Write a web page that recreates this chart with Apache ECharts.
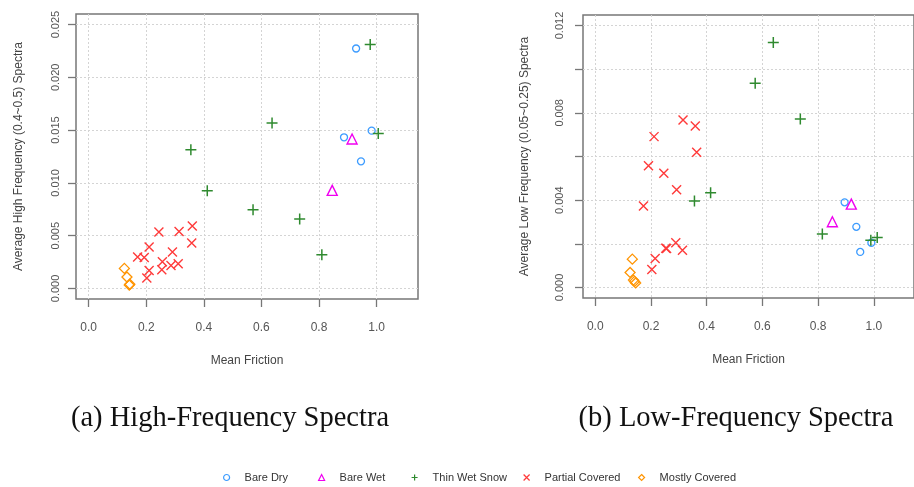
<!DOCTYPE html>
<html><head><meta charset="utf-8">
<script src="https://cdn.jsdelivr.net/npm/echarts@6/dist/echarts.min.js"></script>
<style>html,body{margin:0;padding:0;background:#fff}#c{width:914px;height:487px}</style>
</head><body><div id="c"></div>
<script>
// ---- data ----
const categories = ['Bare Dry', 'Bare Wet', 'Thin Wet Snow', 'Partial Covered', 'Mostly Covered'];
const xTicks = [0, 0.2, 0.4, 0.6, 0.8, 1.0];
const yTicksHigh = [0, 0.005, 0.010, 0.015, 0.020, 0.025];
const yTicksLow = [0, 0.002, 0.004, 0.006, 0.008, 0.010, 0.012];
const yLabelsLow = [0, 0.004, 0.008, 0.012];
const captions = ['(a) High-Frequency Spectra', '(b) Low-Frequency Spectra'];
const xName = 'Mean Friction';
const yNameHigh = 'Average High Frequency (0.4~0.5) Spectra';
const yNameLow = 'Average Low Frequency (0.05~0.25) Spectra';

// (a) high-frequency
const highBareDry = [[0.929, 0.02273], [0.887, 0.01432], [0.983, 0.01495], [0.946, 0.01204]];
const highBareWet = [[0.915, 0.01416], [0.846, 0.00929]];
const highThinWetSnow = [[0.978, 0.0231], [1.006, 0.01467], [0.637, 0.01568], [0.355, 0.01315],
  [0.412, 0.00926], [0.571, 0.00746], [0.733, 0.00658], [0.810, 0.0032]];
const highPartialCovered = [[0.244, 0.00535], [0.314, 0.0054], [0.360, 0.00592], [0.358, 0.0043],
  [0.210, 0.00392], [0.291, 0.00345], [0.170, 0.00298], [0.193, 0.00294], [0.256, 0.00253],
  [0.254, 0.00177], [0.286, 0.00218], [0.311, 0.00234], [0.210, 0.00171], [0.202, 0.00099]];
const highMostlyCovered = [[0.124, 0.0019], [0.133, 0.00108], [0.141, 0.00032], [0.143, 0.0004]];

// (b) low-frequency
const lowBareDry = [[0.895, 0.0039], [0.937, 0.00278], [0.951, 0.00163], [0.991, 0.00205]];
const lowBareWet = [[0.919, 0.00382], [0.851, 0.00301]];
const lowThinWetSnow = [[0.639, 0.01122], [0.574, 0.00936], [0.736, 0.00772], [0.414, 0.00434],
  [0.356, 0.00396], [0.815, 0.00245], [0.989, 0.00217], [1.012, 0.00229]];
const lowPartialCovered = [[0.315, 0.00767], [0.359, 0.0074], [0.211, 0.00691], [0.364, 0.00619],
  [0.191, 0.00558], [0.246, 0.00523], [0.292, 0.00448], [0.173, 0.00373], [0.289, 0.00205],
  [0.256, 0.00179], [0.253, 0.0018], [0.313, 0.00171], [0.215, 0.00133], [0.203, 0.00083]];
const lowMostlyCovered = [[0.133, 0.0013], [0.125, 0.00069], [0.137, 0.00034], [0.145, 0.00021], [0.141, 0.00028]];

// ---- styles ----
const colors = ['#3d9cff', '#f000f0', '#2f8a2f', '#ff3a3a', '#ff9400'];
const symbols = ['circle', 'triangle', 'path://M5,0 L5,10 M0,5 L10,5', 'path://M0,0 L10,10 M10,0 L0,10', 'diamond'];
const sizes = [7, 10, 11, 9, 10];
const widths = [1.3, 1.4, 1.5, 1.4, 1.3];
const highSets = [highBareDry, highBareWet, highThinWetSnow, highPartialCovered, highMostlyCovered];
const lowSets = [lowBareDry, lowBareWet, lowThinWetSnow, lowPartialCovered, lowMostlyCovered];

const FONT = '"Liberation Sans", Arial, sans-serif';
const gridLine = { show: true, lineStyle: { color: '#d4d4d4', type: [2, 2], width: 1 } };

function xAxis(gi) {
  return {
    type: 'value', gridIndex: gi, min: -0.044, max: 1.144,
    name: xName, nameLocation: 'middle', nameGap: 56,
    nameTextStyle: { fontFamily: FONT, fontSize: 12, color: '#444' },
    axisLine: { show: false, onZero: false },
    axisTick: { show: true, length: 8, customValues: xTicks, lineStyle: { color: '#777', width: 1.3 } },
    axisLabel: { customValues: xTicks, margin: 23, fontFamily: FONT, fontSize: 12, color: '#555',
      formatter: v => v.toFixed(1) },
    splitLine: gridLine
  };
}
function yAxis(gi, ticks, labels, name, min, max, margin, gap, dec) {
  return {
    type: 'value', gridIndex: gi, min: min, max: max,
    name: name, nameLocation: 'middle', nameGap: gap, nameRotate: 90,
    nameTextStyle: { fontFamily: FONT, fontSize: 12, color: '#444' },
    axisLine: { show: false, onZero: false },
    axisTick: { show: true, length: 8, customValues: ticks, lineStyle: { color: '#777', width: 1.3 } },
    axisLabel: { customValues: labels, rotate: 90, margin: margin, fontFamily: FONT, fontSize: 11, color: '#555',
      formatter: v => v.toFixed(dec) },
    splitLine: gridLine
  };
}

const series = [];
[highSets, lowSets].forEach((sets, gi) => {
  sets.forEach((d, i) => {
    series.push({
      type: 'scatter', name: categories[i], xAxisIndex: gi, yAxisIndex: gi,
      data: d, symbol: symbols[i], symbolSize: sizes[i],
      itemStyle: { color: 'rgba(255,255,255,0)', borderColor: colors[i], borderWidth: widths[i], opacity: 1 },
      emphasis: { disabled: true }
    });
  });
});

const legendLefts = [223, 318, 411, 523, 638];
const legends = categories.map((c, i) => ({
  data: [{ name: c, icon: symbols[i], itemStyle: { color: 'rgba(255,255,255,0)', borderColor: colors[i], borderWidth: 1.2 } }],
  left: legendLefts[i], top: 472, itemWidth: 6, itemHeight: 6, itemGap: 0, padding: 0,
  textStyle: { fontFamily: FONT, fontSize: 11, color: '#333', padding: [0, 0, 0, 10] },
  selectedMode: false
}));

const option = {
  animation: false,
  backgroundColor: '#fff',
  grid: [
    { left: 76, top: 14, width: 342, height: 285, show: true, borderColor: '#777', borderWidth: 1.5, backgroundColor: 'transparent' },
    { left: 583, top: 15, width: 342, height: 283, show: true, borderColor: '#777', borderWidth: 1.5, backgroundColor: 'transparent' }
  ],
  xAxis: [xAxis(0), xAxis(1)],
  yAxis: [
    yAxis(0, yTicksHigh, yTicksHigh, yNameHigh, -0.001, 0.026, 15, 51, 3),
    yAxis(1, yTicksLow, yLabelsLow, yNameLow, -0.00048, 0.01248, 18, 52, 3)
  ],
  legend: legends,
  series: series,
  graphic: [
    { type: 'text', x: 230, y: 419, style: { text: captions[0], font: '28.5px "Liberation Serif", serif', fill: '#111', align: 'center', verticalAlign: 'middle', textAlign: 'center', textVerticalAlign: 'middle' } },
    { type: 'text', x: 736, y: 419, style: { text: captions[1], font: '28.5px "Liberation Serif", serif', fill: '#111', align: 'center', verticalAlign: 'middle', textAlign: 'center', textVerticalAlign: 'middle' } }
  ]
};
const chart = echarts.init(document.getElementById('c'), null, { renderer: 'canvas' });
chart.setOption(option);
</script>
</body></html>
